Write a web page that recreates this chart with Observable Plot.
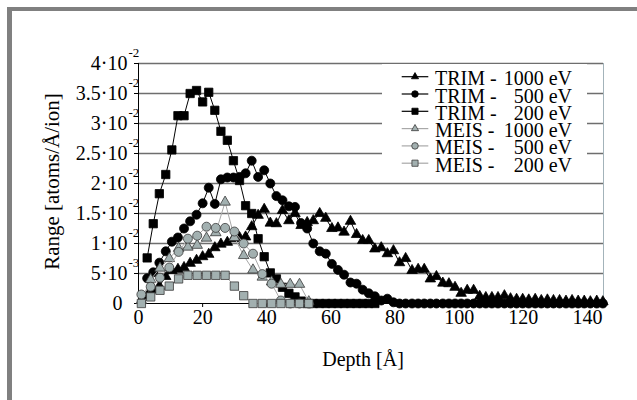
<!DOCTYPE html>
<html><head><meta charset="utf-8">
<script src="https://cdn.jsdelivr.net/npm/d3@7"></script>
<script src="https://cdn.jsdelivr.net/npm/@observablehq/plot@0.6"></script>
<style>
body{margin:0;background:#fff;}
#wrap{position:relative;width:637px;height:400px;overflow:hidden;font-family:'Liberation Serif','DejaVu Serif',serif;}
#chart{position:absolute;left:0;top:0;}
#chart svg, #chart svg text{font-family:'Liberation Serif','DejaVu Serif',serif !important;}
#frame{position:absolute;left:7px;top:7px;width:700px;height:500px;border-left:5px solid #808080;border-top:4px solid #808080;}
#legend{position:absolute;left:382px;top:64px;width:205px;height:118px;background:#fff;}
#legend svg, #legend text{font-family:'Liberation Serif','DejaVu Serif',serif;}
</style></head>
<body><div id="wrap"><div id="chart"></div><div id="legend"></div><div id="frame"></div></div>
<script>
// ---- data ----
const trimDepth = [2.7,4.6,6.5,8.5,10.4,12.3,14.2,16.1,18.1,20.0,21.9,23.8,25.7,27.7,29.6,31.5,33.4,35.3,37.3,39.2,41.1,43.0,44.9,46.9,48.8,50.7,52.6,54.5,56.5,58.4,60.3,62.2,64.1,66.1,68.0,69.9,71.8,73.7,75.7,77.6,79.5,81.4,83.3,85.3,87.2,89.1,91.0,92.9,94.9,96.8,98.7,100.6,102.5,104.5,106.4,108.3,110.2,112.1,114.1,116.0,117.9,119.8,121.7,123.7,125.6,127.5,129.4,131.3,133.3,135.2,137.1,139.0,140.9,142.9,144.8];
const trim1000 = [0.0013,0.0022,0.0029,0.0045,0.0055,0.0057,0.0060,0.0067,0.0072,0.0078,0.0082,0.0093,0.0099,0.0102,0.0108,0.0110,0.0111,0.0128,0.0147,0.0157,0.0134,0.0133,0.0155,0.0138,0.0150,0.0130,0.0135,0.0138,0.0150,0.0142,0.0125,0.0126,0.0119,0.0137,0.0115,0.0105,0.0105,0.0091,0.0093,0.0083,0.0088,0.0068,0.0075,0.0055,0.0057,0.0057,0.0041,0.0045,0.0034,0.0033,0.0027,0.0017,0.0022,0.0022,0.0012,0.0010,0.0010,0.0010,0.0013,0.0008,0.0007,0.0007,0.0006,0.0007,0.0005,0.0006,0.0005,0.0005,0.0004,0.0005,0.0004,0.0004,0.0003,0.0004,0.0003];
const trim500 = [0.0042,0.0052,0.0068,0.0087,0.0103,0.0110,0.0125,0.0137,0.0148,0.0167,0.0193,0.0166,0.0207,0.0210,0.0210,0.0211,0.0217,0.0238,0.0211,0.0222,0.0200,0.0179,0.0172,0.0162,0.0161,0.0134,0.0125,0.0100,0.0087,0.0083,0.0066,0.0056,0.0048,0.0035,0.0033,0.0023,0.0017,0.0012,0.0005,0.0008,0.0002,0,0,0,0,0,0,0,0,0,0,0,0,0,0,0,0,0,0,0,0,0,0,0,0,0,0,0,0,0,0,0,0,0,0];
const trim200 = [0.0076,0.0133,0.0183,0.0215,0.0256,0.0313,0.0313,0.0350,0.0355,0.0336,0.0352,0.0322,0.0287,0.0272,0.0238,0.0205,0.0163,0.0150,0.0108,0.0078,0.0051,0.0041,0.0027,0.0017,0.0011,0.0004,0,0,0,0,0,0,0,0,0,0,0,0];
const meisDepth = [0.9,3.8,6.7,9.6,12.5,15.4,18.3,21.2,24.1,27.0,29.9,32.8,35.7,38.6,41.5,44.4,47.3,50.2,53.1];
const meis1000 = [0.0005,0.0040,0.0059,0.0075,0.0092,0.0094,0.0097,0.0109,0.0118,0.0169,0.0110,0.0080,0.0056,0.0044,0.0036,0.0032,0.0032,0.0032,0.0003];
const meis500 = [0.0015,0.0028,0.0043,0.0060,0.0086,0.0108,0.0113,0.0128,0.0126,0.0126,0.0120,0.0100,0.0083,0.0049,0.0033,0.0005,0,0,0];
const meis200 = [0,0.0011,0.0022,0.0029,0.0041,0.0047,0.0047,0.0047,0.0047,0.0047,0.0029,0.0013,0,0,0,0,0,0,0];
const xTicks = [0,20,40,60,80,100,120,140];
const yTicks = [0,0.005,0.01,0.015,0.02,0.025,0.03,0.035,0.04];
const yTickMantissa = ["0","5·10","1·10","1.5·10","2·10","2.5·10","3·10","3.5·10","4·10"];
const yTickExponent = ["","-3","-2","-2","-2","-2","-2","-2","-2"];
const seriesSource = ["TRIM","TRIM","TRIM","MEIS","MEIS","MEIS"];
const seriesEnergy = [1000,500,200,1000,500,200];
const xLabel = "Depth [Å]";
const yLabel = "Range [atoms/Å/ion]";

// ---- build ----
const FONT = "'Liberation Serif','DejaVu Serif',serif";
const rows = (depth, values) => values.map((v, i) => ({depth: depth[i], value: v}));
const gray = "#a2b0b0";
const series = [
  {data: rows(trimDepth, trim1000), symbol: "triangle", r: 3.9, fill: "#000", stroke: "#000", line: "#000"},
  {data: rows(trimDepth, trim500), symbol: "circle", r: 4.5, fill: "#000", stroke: "#000", line: "#000"},
  {data: rows(trimDepth, trim200), symbol: "square", r: 4.7, fill: "#000", stroke: "#000", line: "#000"},
  {data: rows(meisDepth, meis1000), symbol: "triangle", r: 3.9, fill: gray, stroke: "#3a3a3a", line: "#a8a8a8"},
  {data: rows(meisDepth, meis500), symbol: "circle", r: 4.5, fill: gray, stroke: "#3a3a3a", line: "#a8a8a8"},
  {data: rows(meisDepth, meis200), symbol: "square", r: 4.7, fill: gray, stroke: "#3a3a3a", line: "#a8a8a8"}
];
const tickRows = yTicks.map((v, i) => ({v, m: yTickMantissa[i], e: yTickExponent[i]}));

const marks = [
  Plot.ruleY(yTicks.slice(1), {y: d => d, stroke: "#6e6e6e", strokeWidth: 1.4}),
  Plot.ruleX([145], {x: d => d, stroke: "#a3b3ba"}),
  Plot.tickX(xTicks, {x: d => d, insetTop: 240, insetBottom: -4, stroke: "#000"}),
  Plot.tickY(yTicks, {y: d => d, insetLeft: -4, insetRight: 465, stroke: "#000"}),
  Plot.ruleX([0], {x: d => d, stroke: "#000"}),
  Plot.ruleY([0], {y: d => d, stroke: "#000"})
];
for (const s of series) {
  marks.push(Plot.line(s.data, {x: "depth", y: "value", stroke: s.line, strokeWidth: 1}));
  marks.push(Plot.dot(s.data, {x: "depth", y: "value", symbol: s.symbol, r: s.r, fill: s.fill, stroke: s.stroke, strokeWidth: 0.8}));
}
marks.push(
  Plot.text(tickRows.filter(d => d.v > 0), {y: "v", text: "m", frameAnchor: "left", dx: -11, textAnchor: "end", lineAnchor: "middle", fontSize: 20, fontFamily: FONT}),
  Plot.text(tickRows.filter(d => d.v === 0), {y: "v", text: "m", frameAnchor: "left", dx: -16, textAnchor: "end", lineAnchor: "middle", fontSize: 20, fontFamily: FONT}),
  Plot.text(tickRows, {y: "v", text: "e", frameAnchor: "left", dx: -10, dy: -11, textAnchor: "start", lineAnchor: "middle", fontSize: 13, fontFamily: FONT}),
  Plot.text(xTicks, {x: d => d, text: d => String(d), frameAnchor: "bottom", dy: 14, lineAnchor: "middle", fontSize: 20, fontFamily: FONT}),
  Plot.text([xLabel], {text: d => d, frameAnchor: "bottom", dx: -8, dy: 56, lineAnchor: "middle", textAnchor: "middle", fontSize: 20, fontFamily: FONT}),
  Plot.text([yLabel], {text: d => d, frameAnchor: "left", dx: -86, dy: -2, rotate: -90, textAnchor: "middle", lineAnchor: "middle", fontSize: 21, fontFamily: FONT})
);

const chart = Plot.plot({
  width: 637, height: 400,
  marginLeft: 138, marginRight: 34, marginTop: 63, marginBottom: 97,
  x: {domain: [0, 145], axis: null},
  y: {domain: [0, 0.04], axis: null},
  style: {fontSize: "20px", background: "transparent", color: "#000", overflow: "visible"},
  marks
});
document.getElementById("chart").appendChild(chart);

// ---- legend ----
const leg = d3.select("#legend").append("svg").attr("width", 205).attr("height", 118)
  .attr("font-family", FONT).attr("font-size", 20);
const legSym = {triangle: [d3.symbolTriangle, 22], circle: [d3.symbolCircle, 34], square: [d3.symbolSquare, 38]};
series.forEach((s, i) => {
  const g = leg.append("g").attr("transform", `translate(0,${12.7 + 17.3 * i})`);
  g.append("line").attr("x1", 19.7).attr("x2", 46.3).attr("stroke", s.line).attr("stroke-width", 1.2);
  g.append("path").attr("transform", "translate(33,0)")
    .attr("d", d3.symbol(legSym[s.symbol][0], legSym[s.symbol][1])())
    .attr("fill", s.fill).attr("stroke", s.stroke).attr("stroke-width", 0.8);
  g.append("text").attr("x", 53).attr("y", 1.5).attr("dy", "0.35em").text(`${seriesSource[i]} -`);
  g.append("text").attr("x", 190).attr("y", 1.5).attr("dy", "0.35em").attr("text-anchor", "end").text(`${seriesEnergy[i]} eV`);
});
</script>
</body></html>
